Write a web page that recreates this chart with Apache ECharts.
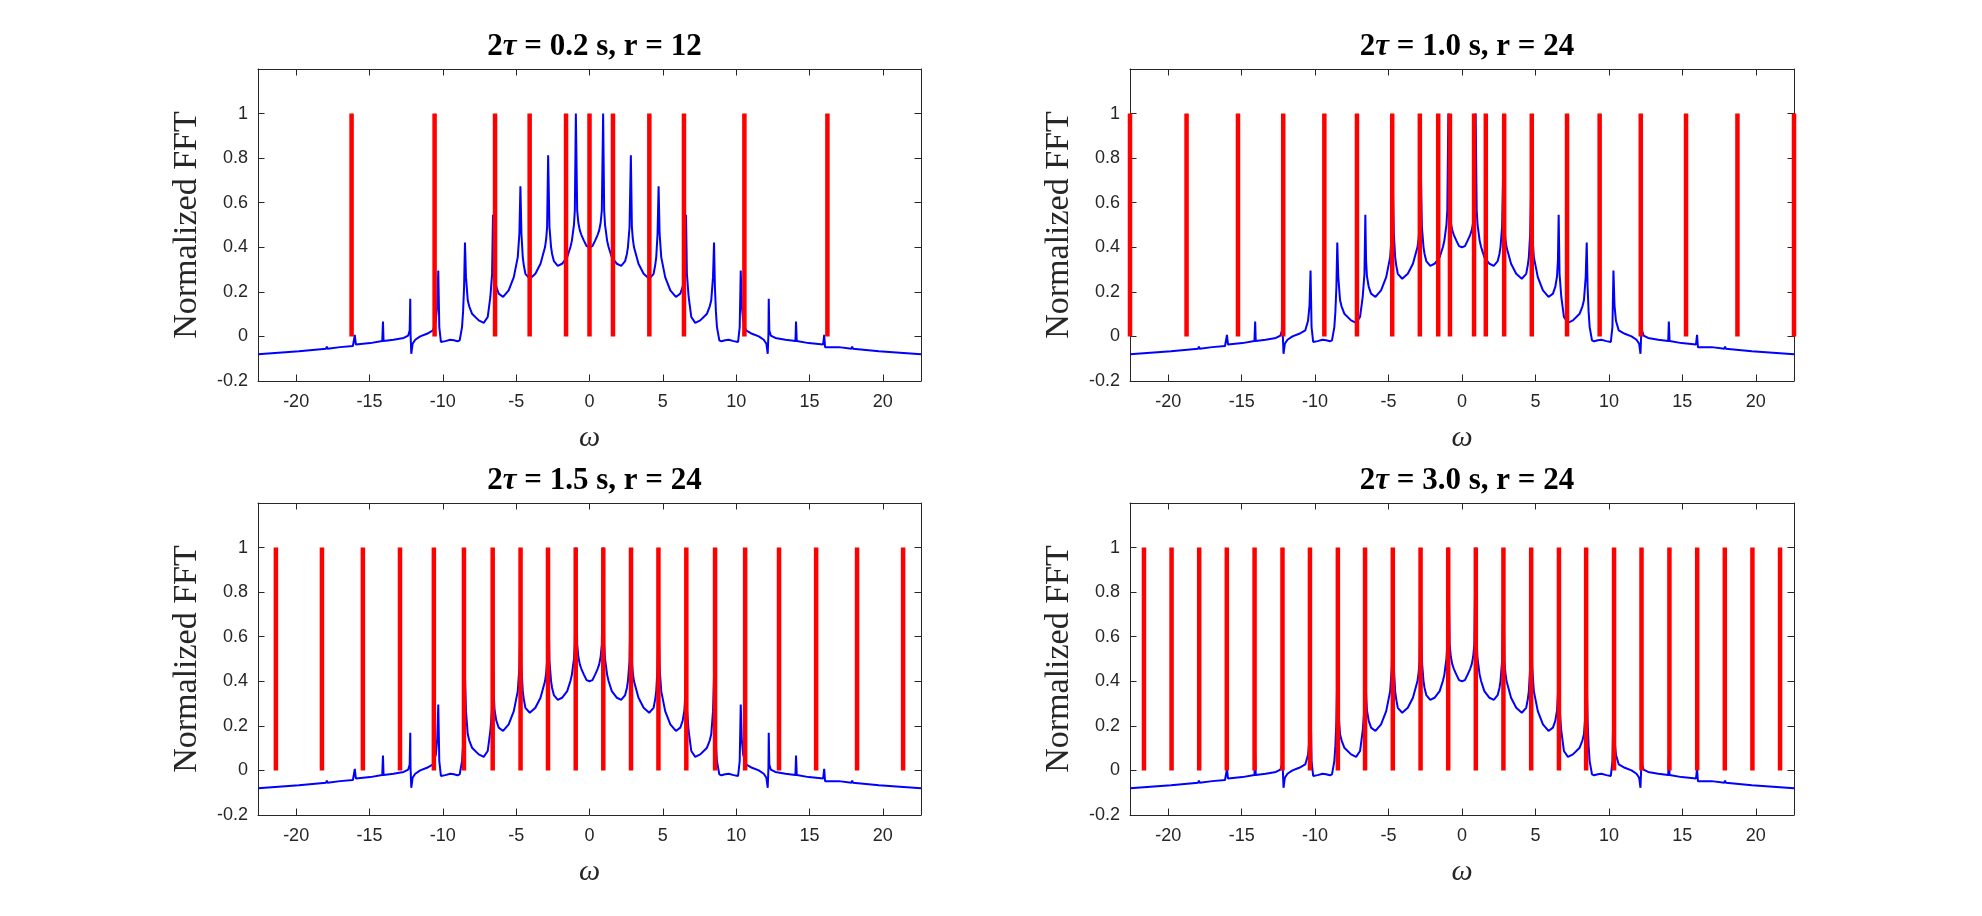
<!DOCTYPE html>
<html><head><meta charset="utf-8">
<script src="https://cdn.jsdelivr.net/npm/echarts@6/dist/echarts.min.js"></script>
<style>html,body{margin:0;padding:0;background:#fff}#c{width:1982px;height:916px}</style>
</head><body><div id="c"></div>
<script>
// Blue curve (same in all four panels): omega and normalized FFT value
const fftOmega = [
 -22.60,-19.81,-19.77,-19.73,-17.96,-17.91,-17.86,-17.00,-16.13,-16.06,-16.00,-15.93,-14.95,-14.13,-14.08,-14.04,
 -13.36,-12.67,-12.36,-12.26,-12.22,-12.20,-12.15,-12.06,-11.88,-11.54,-11.08,-10.67,-10.48,-10.38,-10.31,-10.24,
 -10.13,-9.83,-9.49,-9.25,-8.99,-8.85,-8.69,-8.62,-8.55,-8.49,-8.42,-8.30,-8.20,-8.01,-7.55,-7.21,-6.94,-6.76,
 -6.64,-6.58,-6.53,-6.47,-6.35,-6.19,-5.89,-5.51,-5.16,-4.89,-4.78,-4.71,-4.64,-4.55,-4.48,-4.37,-4.07,-3.69,
 -3.34,-3.03,-2.95,-2.89,-2.82,-2.73,-2.62,-2.55,-2.43,-2.16,-1.87,-1.52,-1.30,-1.20,-1.11,-1.06,-1.00,-0.93,
 -0.84,-0.76,-0.66,-0.55,-0.39,-0.20,
 0.00,
 0.20,0.39,0.55,0.66,0.76,0.84,0.93,1.00,1.06,1.11,1.20,1.30,1.52,1.87,2.16,2.43,2.55,2.62,2.73,2.82,2.89,2.95,
 3.03,3.34,3.69,4.07,4.37,4.48,4.55,4.64,4.71,4.78,4.89,5.16,5.51,5.89,6.19,6.35,6.47,6.53,6.58,6.64,6.76,6.94,
 7.21,7.55,8.01,8.20,8.30,8.42,8.49,8.55,8.62,8.69,8.85,8.99,9.25,9.49,9.83,10.13,10.24,10.31,10.38,10.48,10.67,
 11.08,11.54,11.88,12.06,12.15,12.20,12.22,12.26,12.36,12.67,13.36,14.04,14.08,14.13,14.95,15.93,16.00,16.06,
 16.13,17.00,17.86,17.91,17.96,19.73,19.77,19.81,22.60
];
const fftValue = [
 -0.080,-0.066,-0.063,-0.066,-0.055,-0.045,-0.055,-0.048,-0.043,-0.048,0.007,-0.036,-0.030,-0.021,0.067,-0.021,
 -0.015,-0.007,0.004,0.027,0.169,0.012,-0.078,-0.033,-0.015,0.000,0.012,0.027,0.070,0.140,0.296,0.042,
 -0.025,-0.021,-0.015,-0.017,-0.022,-0.018,0.042,0.110,0.222,0.421,0.266,0.162,0.135,0.102,0.072,0.061,0.087,0.177,
 0.281,0.546,0.340,0.270,0.222,0.192,0.177,0.207,0.266,0.356,0.461,0.674,0.461,0.356,0.320,0.281,0.259,0.281,
 0.326,0.401,0.440,0.491,0.813,0.491,0.401,0.370,0.338,0.317,0.326,0.356,0.401,0.430,0.476,0.500,0.566,1.000,
 0.566,0.510,0.476,0.455,0.431,0.405,
 0.400,
 0.405,0.431,0.455,0.476,0.510,0.566,1.000,0.566,0.500,0.476,0.430,0.401,0.356,0.326,0.317,0.338,0.370,0.401,0.491,0.813,0.491,0.440,
 0.401,0.326,0.281,0.259,0.281,0.320,0.356,0.461,0.674,0.461,0.356,0.266,0.207,0.177,0.192,0.222,0.270,0.340,0.546,0.281,0.177,0.087,
 0.061,0.072,0.102,0.135,0.162,0.266,0.421,0.222,0.110,0.042,-0.018,-0.022,-0.017,-0.015,-0.021,-0.025,0.042,0.296,0.140,0.070,0.027,
 0.012,0.000,-0.015,-0.033,-0.078,0.012,0.169,0.027,0.004,-0.007,-0.015,-0.021,0.067,-0.021,-0.030,-0.036,0.007,-0.048,
 -0.043,-0.048,-0.055,-0.045,-0.055,-0.066,-0.063,-0.066,-0.080
];
// Red stem positions (height 1) per panel
const stems1 = [-16.22,-10.56,-6.44,-4.08,-1.60,0,1.60,4.08,6.44,10.56,16.22];
const stems2 = [-22.60,-18.75,-15.25,-12.17,-9.37,-7.15,-4.75,-2.87,-1.62,-0.82,0.82,1.62,2.87,4.75,7.15,9.37,12.17,15.25,18.75,22.60];
const stems3 = [-21.38,-18.24,-15.45,-12.92,-10.61,-8.56,-6.60,-4.70,-2.83,-0.94,0.94,2.83,4.70,6.60,8.56,10.61,12.92,15.45,18.24,21.38];
const stems4 = [-21.65,-19.77,-17.89,-16.01,-14.12,-12.22,-10.35,-8.45,-6.60,-4.71,-2.82,-0.94,0.94,2.82,4.71,6.60,8.45,10.35,12.22,14.12,16.01,17.89,19.77,21.65];
const stemHeight = 1;
// Titles
const titleTau = ['0.2','1.0','1.5','3.0'];
const titleR = ['12','24','24','24'];
const xLabel = 'ω';
const yLabel = 'Normalized FFT';
const xRange = [-22.6, 22.6];
const yRange = [-0.2, 1.2];

const stems = [stems1, stems2, stems3, stems4];
const boxes = [
  {left:258, top:69, width:663, height:312},
  {left:1130, top:69, width:664, height:312},
  {left:258, top:503, width:663, height:312},
  {left:1130, top:503, width:664, height:312}
];
const axisCol = '#262626';
const curveData = fftOmega.map((x,i)=>[x, fftValue[i]]);

const grid=[], xAxis=[], yAxis=[], series=[], title=[];
boxes.forEach((b,i)=>{
  grid.push({left:b.left, top:b.top, width:b.width, height:b.height, show:false, containLabel:false});
  const common = {type:'value', gridIndex:i, min:xRange[0], max:xRange[1], splitNumber:9, minInterval:5, maxInterval:5,
    splitLine:{show:false},
    axisLine:{show:true, onZero:false, lineStyle:{color:axisCol, width:1}},
    axisTick:{show:true, inside:true, length:6.5, lineStyle:{color:axisCol, width:1}}};
  xAxis.push(Object.assign({}, common, {position:'bottom',
    axisLabel:{show:true, color:axisCol, fontSize:18, fontFamily:'Liberation Sans', margin:12,
      showMinLabel:false, showMaxLabel:false,
      formatter:v=> (Math.abs(v - Math.round(v))<1e-6 ? String(Math.round(v)) : '')},
    name:xLabel, nameLocation:'middle', nameGap:42,
    nameTextStyle:{fontFamily:'Liberation Serif', fontStyle:'italic', fontSize:30, color:axisCol}}));
  xAxis.push(Object.assign({}, common, {position:'top', axisLabel:{show:false}}));
  const ycommon = {type:'value', gridIndex:i, min:yRange[0], max:yRange[1], interval:0.2,
    splitLine:{show:false},
    axisLine:{show:true, onZero:false, lineStyle:{color:axisCol, width:1}},
    axisTick:{show:true, inside:true, length:6.5, lineStyle:{color:axisCol, width:1}}};
  yAxis.push(Object.assign({}, ycommon, {position:'left',
    axisLabel:{show:true, color:axisCol, fontSize:18, fontFamily:'Liberation Sans', margin:10,
      formatter:v=> (v>1.05 ? '' : String(Math.round(v*10)/10))},
    name:yLabel, nameLocation:'middle', nameGap:54, nameRotate:90,
    nameTextStyle:{fontFamily:'Liberation Serif', fontSize:34, color:axisCol}}));
  yAxis.push(Object.assign({}, ycommon, {position:'right', axisLabel:{show:false}}));
  series.push({type:'line', xAxisIndex:2*i, yAxisIndex:2*i, data:curveData, showSymbol:false, symbol:'none',
    sampling:null, lineStyle:{color:'#0000ff', width:2}, itemStyle:{color:'#0000ff'}, z:2, animation:false});
  series.push({type:'bar', xAxisIndex:2*i, yAxisIndex:2*i, data:stems[i].map(x=>[x, stemHeight]),
    barWidth:4.5, itemStyle:{color:'#ff0000'}, clip:false, z:3, animation:false});
  title.push({text:'2{t|τ} = '+titleTau[i]+' s, r = '+titleR[i], left:b.left+b.width/2, textAlign:'center',
    top:b.top-43,
    textStyle:{fontFamily:'Liberation Serif', fontWeight:'bold', fontSize:31, color:'#000',
      rich:{t:{fontFamily:'Liberation Serif', fontStyle:'italic', fontWeight:'bold', fontSize:31, color:'#000'}}}});
});

const chart = echarts.init(document.getElementById('c'), null, {renderer:'canvas'});
chart.setOption({backgroundColor:'#fff', animation:false, title, grid, xAxis, yAxis, series, tooltip:{show:false}});
</script></body></html>
